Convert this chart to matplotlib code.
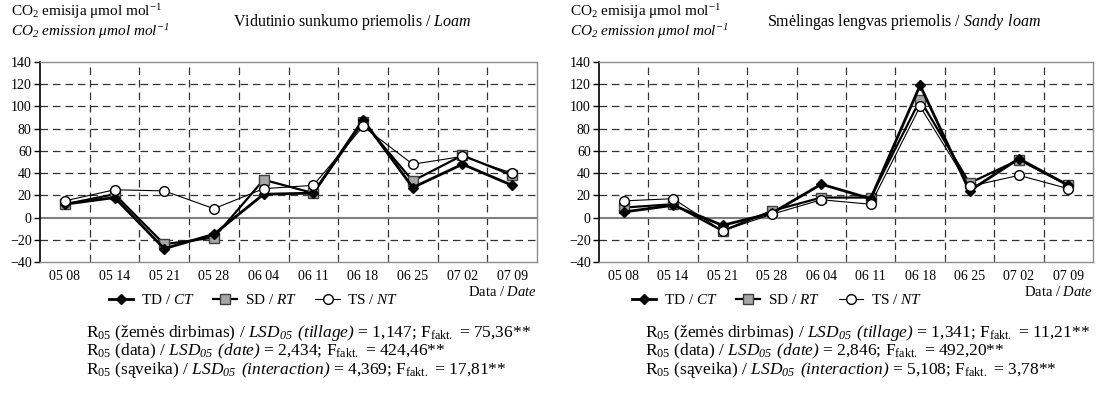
import numpy as np
import matplotlib.pyplot as plt

plt.rcParams['font.family'] = 'Liberation Serif'
plt.rcParams['mathtext.fontset'] = 'custom'
plt.rcParams['mathtext.rm'] = 'Liberation Serif'
plt.rcParams['mathtext.sf'] = 'Liberation Serif:italic'
plt.rcParams['mathtext.default'] = 'regular'

dates = ['05 08', '05 14', '05 21', '05 28', '06 04', '06 11', '06 18', '06 25', '07 02', '07 09']

# Vidutinio sunkumo priemolis / Loam
loam_td = [12, 18, -28, -15, 21, 22, 88, 27, 48, 29]
loam_sd = [12, 21, -24, -18, 34, 22, 86, 33, 56, 38]
loam_ts = [15, 25, 24, 8, 26, 29, 82, 48, 55, 40]

# Smėlingas lengvas priemolis / Sandy loam
sandy_td = [5, 11, -7, 4, 30, 17, 119, 24, 53, 29]
sandy_sd = [9, 12, -12, 6, 18, 18, 106, 31, 52, 29]
sandy_ts = [15, 17, -12, 3, 16, 12, 100, 28, 38, 26]

titles = ['Vidutinio sunkumo priemolis / $\\mathsf{Loam}$',
          'Smėlingas lengvas priemolis / $\\mathsf{Sandy\\ loam}$']
lsd_left = ['1,147', '2,434', '4,369']
f_left = ['75,36', '424,46', '17,81']
lsd_right = ['1,341', '2,846', '5,108']
f_right = ['11,21', '492,20', '3,78']

W, H = 1100, 405
fig = plt.figure(figsize=(W / 100, H / 100), dpi=100)


def box(x0, y0, x1, y1):
    return [x0 / W, 1 - y1 / H, (x1 - x0) / W, (y1 - y0) / H]


def draw(ax, td, sd, ts):
    x = np.arange(len(dates))
    ax.plot(x, td, color='black', lw=2, marker='D', ms=5, mfc='black', mec='black',
            label='TD / $\\mathsf{CT}$', zorder=5)
    ax.plot(x, sd, color='black', lw=1.6, marker='s', ms=6.5, mfc='#a6a6a6', mec='#404040',
            label='SD / $\\mathsf{RT}$', zorder=4)
    ax.plot(x, ts, color='black', lw=0.8, marker='o', ms=7, mfc='white', mec='black',
            label='TS / $\\mathsf{NT}$', zorder=6)
    ax.set_xlim(-0.5, len(dates) - 0.5)
    ax.set_ylim(-40, 140)
    ax.set_yticks(range(-40, 141, 20))
    ax.set_xticks(x)
    ax.set_xticklabels(dates)
    ax.set_xticks(np.arange(0.5, len(dates) - 1, 1), minor=True)
    ax.tick_params(axis='x', which='major', length=0, pad=6, labelsize=10)
    ax.tick_params(axis='x', which='minor', direction='in', length=3, color='#555555')
    ax.tick_params(axis='y', length=4, width=1, labelsize=10, pad=2)
    for yv in range(-20, 121, 20):
        if yv != 0:
            ax.axhline(yv, color='#333333', lw=0.9, ls=(0, (6, 4)), zorder=1)
    for xv in np.arange(0.5, len(dates) - 1, 1):
        ax.axvline(xv, color='#333333', lw=0.9, ls=(0, (6, 4)), zorder=1)
    ax.axhline(0, color='#7f7f7f', lw=1.5, zorder=2)
    for s in ['top', 'right', 'bottom']:
        ax.spines[s].set_color('#8c8c8c')
        ax.spines[s].set_linewidth(1)
    ax.spines['left'].set_color('black')
    ax.spines['left'].set_linewidth(1.2)


panels = [(40, 537, loam_td, loam_sd, loam_ts, lsd_left, f_left, 233, 0.43),
          (599, 1093, sandy_td, sandy_sd, sandy_ts, lsd_right, f_right, 767, 0.36)]

for i, (x0, x1, td, sd, ts, lsd, ff, tx, lx) in enumerate(panels):
    ax = fig.add_axes(box(x0, 62, x1, 262))
    draw(ax, td, sd, ts)
    off = x0 - 40
    fig.text((11 + off) / W, 1 - 12 / H, 'CO$_2$ emisija μmol mol$^{-1}$',
             fontsize=11, va='center')
    fig.text((11 + off) / W, 1 - 32 / H, 'CO$_2$ emission μmol mol$^{-1}$',
             fontsize=11, style='italic', va='center')
    fig.text(tx / W, 1 - 22 / H, titles[i], fontsize=11.5, va='center')
    fig.text(x1 / W, 1 - 292 / H, 'Data / $\\mathsf{Date}$', fontsize=10.5,
             ha='right', va='center')
    ax.legend(loc='center', bbox_to_anchor=(lx, -0.19), ncol=3, frameon=False,
              fontsize=11, handlelength=1.6, columnspacing=1.2, handletextpad=0.5)
    lines = ['R$_{05}$ (žemės dirbimas) / $\\mathsf{LSD_{05}\\ (tillage)}$ = %s; F$_{fakt.}$ = %s**',
             'R$_{05}$ (data) / $\\mathsf{LSD_{05}\\ (date)}$ = %s; F$_{fakt.}$ = %s**',
             'R$_{05}$ (sąveika) / $\\mathsf{LSD_{05}\\ (interaction)}$ = %s; F$_{fakt.}$ = %s**']
    for k in range(3):
        fig.text((86 + off) / W, 1 - (333 + 18.5 * k) / H, lines[k] % (lsd[k], ff[k]),
                 fontsize=12.5, va='center')

fig.savefig('out.png', dpi=100)
